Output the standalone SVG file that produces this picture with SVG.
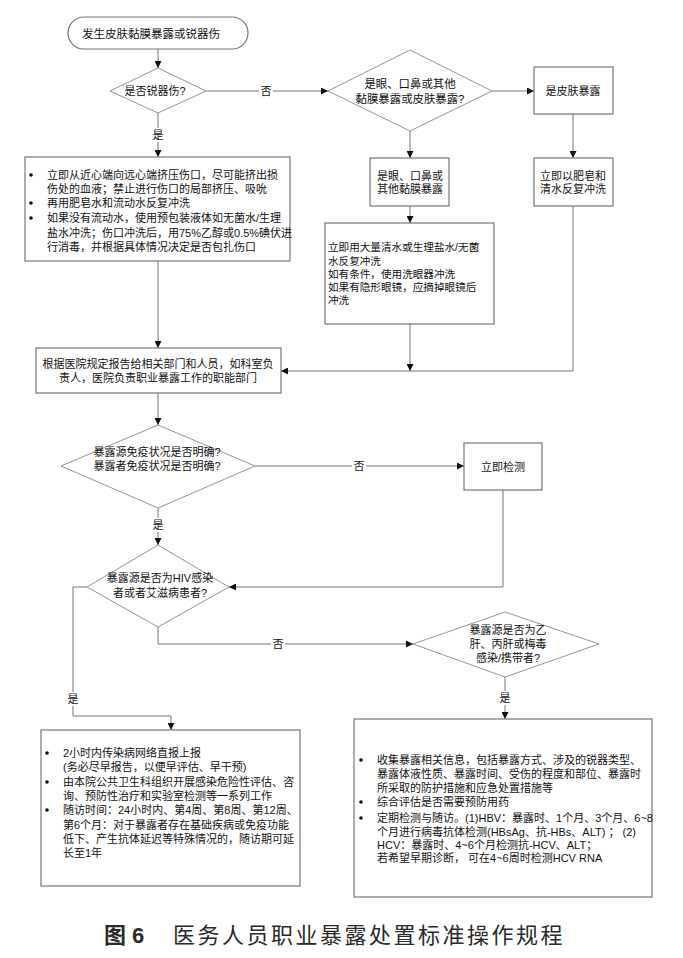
<svg xmlns="http://www.w3.org/2000/svg" width="683" height="958" viewBox="0 0 683 958">
<style>
.box{fill:#fff;stroke:#777;stroke-width:1.2}
.dia{fill:#fff;stroke:#888;stroke-width:0.9}
.ln{fill:none;stroke:#777;stroke-width:1}
.t{font-family:"Liberation Sans","Noto Sans CJK SC",sans-serif;font-size:11px;fill:#111;dominant-baseline:central}
.c{text-anchor:middle}
.lbl{font-family:"Liberation Sans","Noto Sans CJK SC",sans-serif;font-size:11px;fill:#111;text-anchor:middle;dominant-baseline:central}
.bul{fill:#111}
.cap{font-family:"Liberation Sans","Noto Sans CJK SC",sans-serif;font-size:22px;fill:#2a2a2a;dominant-baseline:central}
</style>
<defs>
<marker id="ah" viewBox="0 0 10 10" refX="10" refY="5" markerWidth="7" markerHeight="7" markerUnits="userSpaceOnUse" orient="auto">
<path d="M0,0 L10,5 L0,10 z" fill="#111"/>
</marker>
</defs>
<rect width="683" height="958" fill="#fff"/>

<g id="connectors">
<path class="ln" d="M158,49 V68" marker-end="url(#ah)"/>
<path class="ln" d="M206,91 H328" marker-end="url(#ah)"/>
<path class="ln" d="M492,91 H534" marker-end="url(#ah)"/>
<path class="ln" d="M573,114 V158" marker-end="url(#ah)"/>
<path class="ln" d="M410,131 V158" marker-end="url(#ah)"/>
<path class="ln" d="M410,206 V223" marker-end="url(#ah)"/>
<path class="ln" d="M158,113 V157" marker-end="url(#ah)"/>
<path class="ln" d="M158,261 V348" marker-end="url(#ah)"/>
<path class="ln" d="M410,324 V371" marker-end="url(#ah)"/>
<path class="ln" d="M573,206 V371 H281" marker-end="url(#ah)"/>
<path class="ln" d="M158,393 V425" marker-end="url(#ah)"/>
<path class="ln" d="M255,466 H464" marker-end="url(#ah)"/>
<path class="ln" d="M158,508 V545" marker-end="url(#ah)"/>
<path class="ln" d="M503,490 V587 H229" marker-end="url(#ah)"/>
<path class="ln" d="M158,627 V644 H413" marker-end="url(#ah)"/>
<path class="ln" d="M87,587 H73 V716 H171 V730" marker-end="url(#ah)"/>
<path class="ln" d="M505,677 V719" marker-end="url(#ah)"/>
<g>
<rect x="259" y="84" width="14" height="14" fill="#fff"/><text class="lbl" x="266" y="91">否</text>
<rect x="151" y="128" width="14" height="14" fill="#fff"/><text class="lbl" x="158" y="135">是</text>
<rect x="352" y="459" width="14" height="14" fill="#fff"/><text class="lbl" x="359" y="466">否</text>
<rect x="151" y="518" width="14" height="14" fill="#fff"/><text class="lbl" x="158" y="525">是</text>
<rect x="271" y="637" width="14" height="14" fill="#fff"/><text class="lbl" x="278" y="644">否</text>
<rect x="66" y="692" width="14" height="14" fill="#fff"/><text class="lbl" x="73" y="699">是</text>
<rect x="498" y="691" width="14" height="14" fill="#fff"/><text class="lbl" x="505" y="698">是</text>
</g>
</g>

<g id="start">
<rect class="box" x="68" y="17" width="180" height="32" rx="16" ry="16"/>
<text class="t" x="82" y="34" style="font-size:11.5px">发生皮肤黏膜暴露或锐器伤</text>
</g>

<g id="d1">
<polygon class="dia" points="158,68 206,91 158,113 110,91"/>
<text class="t c" x="155" y="91">是否锐器伤?</text>
</g>

<g id="d2">
<polygon class="dia" points="410,50 492,91 410,131 328,91"/>
<text class="t c" x="410" y="84" style="font-size:11.4px">是眼、口鼻或其他</text>
<text class="t c" x="410" y="99" style="font-size:11.4px">黏膜暴露或皮肤暴露?</text>
</g>

<g id="skin">
<rect class="box" x="534" y="67" width="79" height="47"/>
<text class="t c" x="573" y="91">是皮肤暴露</text>
</g>

<g id="soap">
<rect class="box" x="534" y="158" width="79" height="48"/>
<text class="t c" x="573" y="176">立即以肥皂和</text>
<text class="t c" x="573" y="189">清水反复冲洗</text>
</g>

<g id="mucosa">
<rect class="box" x="370" y="158" width="79" height="48"/>
<text class="t c" x="410" y="176">是眼、口鼻或</text>
<text class="t c" x="410" y="189">其他黏膜暴露</text>
</g>

<g id="rinse">
<rect class="box" x="325" y="223" width="169" height="101"/>
<text class="t" x="328" y="247" style="font-size:10.6px">立即用大量清水或生理盐水/无菌</text>
<text class="t" x="328" y="261" style="font-size:10.6px">水反复冲洗</text>
<text class="t" x="328" y="274" style="font-size:10.6px">如有条件，使用洗眼器冲洗</text>
<text class="t" x="328" y="287" style="font-size:10.6px">如果有隐形眼镜，应摘掉眼镜后</text>
<text class="t" x="328" y="300" style="font-size:10.6px">冲洗</text>
</g>

<g id="sharp">
<rect class="box" x="25" y="157" width="265" height="104"/>
<circle class="bul" cx="31" cy="175" r="1.8"/>
<text class="t" x="47" y="175">立即从近心端向远心端挤压伤口，尽可能挤出损</text>
<text class="t" x="47" y="189">伤处的血液；禁止进行伤口的局部挤压、吸吮</text>
<circle class="bul" cx="31" cy="203" r="1.8"/>
<text class="t" x="47" y="203">再用肥皂水和流动水反复冲洗</text>
<circle class="bul" cx="31" cy="218" r="1.8"/>
<text class="t" x="47" y="218">如果没有流动水，使用预包装液体如无菌水/生理</text>
<text class="t" x="47" y="233">盐水冲洗；伤口冲洗后，用75%乙醇或0.5%碘伏进</text>
<text class="t" x="47" y="247">行消毒，并根据具体情况决定是否包扎伤口</text>
</g>

<g id="report">
<rect class="box" x="36" y="348" width="245" height="45"/>
<text class="t c" x="158" y="364">根据医院规定报告给相关部门和人员，如科室负</text>
<text class="t c" x="158" y="378">责人，医院负责职业暴露工作的职能部门</text>
</g>

<g id="d3">
<polygon class="dia" points="158,425 255,466 158,508 61,466"/>
<text class="t c" x="157" y="452">暴露源免疫状况是否明确?</text>
<text class="t c" x="157" y="466">暴露者免疫状况是否明确?</text>
</g>

<g id="test">
<rect class="box" x="464" y="443" width="78" height="47"/>
<text class="t c" x="503" y="467">立即检测</text>
</g>

<g id="d4">
<polygon class="dia" points="158,545 229,587 158,627 87,587"/>
<text class="t c" x="160" y="578">暴露源是否为HIV感染</text>
<text class="t c" x="160" y="593">者或者艾滋病患者?</text>
</g>

<g id="d5">
<polygon class="dia" points="505,612 599,644 505,677 413,644"/>
<text class="t c" x="508" y="630">暴露源是否为乙</text>
<text class="t c" x="508" y="644">肝、丙肝或梅毒</text>
<text class="t c" x="508" y="658">感染/携带者?</text>
</g>

<g id="hiv">
<rect class="box" x="41" y="730" width="259" height="156"/>
<circle class="bul" cx="47" cy="753" r="1.8"/>
<text class="t" x="63" y="753">2小时内传染病网络直报上报</text>
<text class="t" x="63" y="767">(务必尽早报告，以便早评估、早干预)</text>
<circle class="bul" cx="47" cy="782" r="1.8"/>
<text class="t" x="63" y="782">由本院公共卫生科组织开展感染危险性评估、咨</text>
<text class="t" x="63" y="796">询、预防性治疗和实验室检测等一系列工作</text>
<circle class="bul" cx="47" cy="810" r="1.8"/>
<text class="t" x="63" y="810">随访时间：24小时内、第4周、第8周、第12周、</text>
<text class="t" x="63" y="825">第6个月：对于暴露者存在基础疾病或免疫功能</text>
<text class="t" x="63" y="839">低下、产生抗体延迟等特殊情况的，随访期可延</text>
<text class="t" x="63" y="853">长至1年</text>
</g>

<g id="hbv">
<rect class="box" x="354" y="719" width="298" height="178"/>
<circle class="bul" cx="361" cy="760" r="1.8"/>
<text class="t" x="377" y="760">收集暴露相关信息，包括暴露方式、涉及的锐器类型、</text>
<text class="t" x="377" y="774">暴露体液性质、暴露时间、受伤的程度和部位、暴露时</text>
<text class="t" x="377" y="788">所采取的防护措施和应急处置措施等</text>
<circle class="bul" cx="361" cy="802" r="1.8"/>
<text class="t" x="377" y="802">综合评估是否需要预防用药</text>
<circle class="bul" cx="361" cy="818" r="1.8"/>
<text class="t" x="377" y="818">定期检测与随访。(1)HBV：暴露时、1个月、3个月、6~8</text>
<text class="t" x="377" y="832">个月进行病毒抗体检测(HBsAg、抗-HBs、ALT) ； (2)</text>
<text class="t" x="377" y="845">HCV：暴露时、4~6个月检测抗-HCV、ALT；</text>
<text class="t" x="377" y="858">若希望早期诊断， 可在4~6周时检测HCV RNA</text>
</g>

<g id="caption">
<text class="cap" x="104" y="935" style="font-weight:bold">图 6</text>
<text class="cap" x="173" y="935" style="letter-spacing:2.5px">医务人员职业暴露处置标准操作规程</text>
</g>
</svg>
